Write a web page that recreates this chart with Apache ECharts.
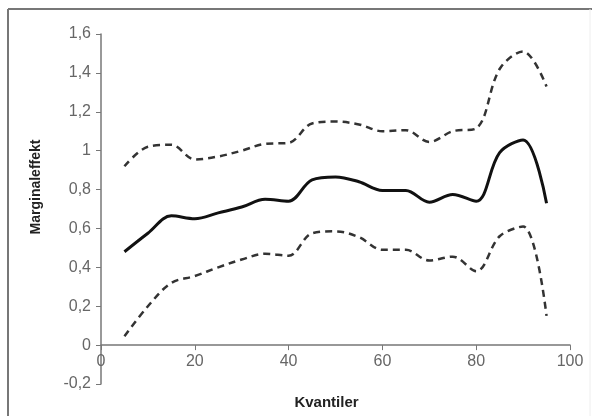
<!DOCTYPE html>
<html>
<head>
<meta charset="utf-8">
<script src="https://cdn.jsdelivr.net/npm/echarts@6/dist/echarts.min.js"></script>
<style>
  html, body { margin: 0; padding: 0; background: #fff; }
  #chart { width: 592px; height: 416px; }
</style>
</head>
<body>
<div id="chart"></div>
<script>
// quantiles on the x axis
const quantiles = [5, 10, 15, 20, 25, 30, 35, 40, 45, 50, 55, 60, 65, 70, 75, 80, 85, 90, 95]
// marginal effect (solid line)
const effect = [0.48, 0.575, 0.665, 0.65, 0.68, 0.71, 0.75, 0.74, 0.85, 0.865, 0.84, 0.795, 0.795, 0.735, 0.775, 0.74, 0.99, 1.055, 0.73]
// upper and lower confidence bands (dashed)
const upper = [0.92, 1.02, 1.03, 0.955, 0.97, 1.0, 1.035, 1.04, 1.14, 1.15, 1.135, 1.1, 1.105, 1.045, 1.1, 1.115, 1.42, 1.51, 1.33]
const lower = [0.045, 0.2, 0.32, 0.355, 0.4, 0.44, 0.47, 0.46, 0.575, 0.585, 0.555, 0.49, 0.49, 0.435, 0.455, 0.38, 0.56, 0.61, 0.15]

const pairs = (ys) => quantiles.map((q, i) => [q, ys[i]])
const fmt = (v) => String(Math.round(v * 10) / 10).replace('.', ',')

const chart = echarts.init(document.getElementById('chart'))

// grid is 350px tall for 1.8 units, so y=0 sits 0.2/1.8 of it above the bottom
const gridTop = 34
const gridBottom = 32
const zeroOffset = -(416 - gridTop - gridBottom) * 0.2 / 1.8

const lineSeries = (ys, dashed) => ({
  type: 'line',
  data: pairs(ys),
  smooth: 0.35,
  showSymbol: false,
  lineStyle: {
    color: dashed ? '#333' : '#111',
    width: dashed ? 2.5 : 3,
    type: dashed ? [7, 5] : 'solid'
  }
})

chart.setOption({
  animation: false,
  textStyle: { fontFamily: 'Liberation Sans, Arial, sans-serif' },
  grid: { left: 101, right: 22, top: gridTop, bottom: gridBottom, outerBoundsMode: 'none' },
  graphic: [
    { type: 'line', shape: { x1: 8, y1: 9, x2: 592, y2: 9 }, style: { stroke: '#777', lineWidth: 2 } },
    { type: 'line', shape: { x1: 8, y1: 9, x2: 8, y2: 416 }, style: { stroke: '#777', lineWidth: 2 } },
    { type: 'line', shape: { x1: 590, y1: 9, x2: 590, y2: 416 }, style: { stroke: '#eee', lineWidth: 1 } }
  ],
  xAxis: {
    type: 'value',
    min: 0,
    max: 100,
    interval: 20,
    offset: zeroOffset,
    name: 'Kvantiler',
    nameLocation: 'middle',
    nameGap: 50,
    nameTextStyle: { fontWeight: 'bold', fontSize: 15, color: '#222', padding: [0, 18, 0, 0] },
    axisLine: { onZero: false, lineStyle: { color: '#777', width: 1.5 } },
    axisTick: { show: true, length: 5, lineStyle: { color: '#777' } },
    axisLabel: { color: '#666', fontSize: 16, margin: 8 },
    splitLine: { show: false }
  },
  yAxis: {
    type: 'value',
    min: -0.2,
    max: 1.6,
    interval: 0.2,
    name: 'Marginaleffekt',
    nameLocation: 'middle',
    nameGap: 58,
    nameTextStyle: { fontWeight: 'bold', fontSize: 14, color: '#222', padding: [0, 0, 0, 44] },
    axisLine: { show: true, lineStyle: { color: '#777', width: 1.5 } },
    axisTick: { show: true, length: 5, lineStyle: { color: '#777' } },
    axisLabel: { color: '#666', fontSize: 16, margin: 10, formatter: fmt },
    splitLine: { show: false }
  },
  series: [
    lineSeries(upper, true),
    lineSeries(effect, false),
    lineSeries(lower, true)
  ]
})
</script>
</body>
</html>
